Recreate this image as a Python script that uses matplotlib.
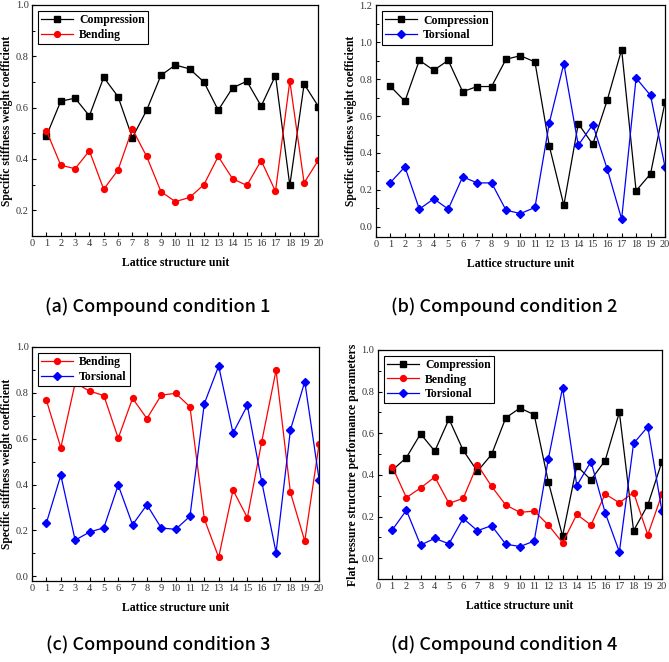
import numpy as np
import matplotlib
matplotlib.use("Agg")
import matplotlib.pyplot as plt
from matplotlib.ticker import MultipleLocator

# ======================================
# DATA
# ======================================
units = list(range(1, 21))

# (a) compound condition 1
a_compression = [0.490, 0.625, 0.637, 0.568, 0.718, 0.643, 0.483, 0.590, 0.726, 0.766,
                 0.751, 0.700, 0.590, 0.677, 0.703, 0.606, 0.725, 0.297, 0.692, 0.604]
a_bending = [0.510, 0.376, 0.362, 0.432, 0.282, 0.357, 0.517, 0.410, 0.273, 0.234,
             0.250, 0.300, 0.410, 0.323, 0.297, 0.394, 0.274, 0.704, 0.307, 0.396]

# (b) compound condition 2
b_compression = [0.761, 0.680, 0.902, 0.848, 0.902, 0.732, 0.760, 0.760, 0.908, 0.927,
                 0.893, 0.436, 0.117, 0.559, 0.447, 0.685, 0.960, 0.195, 0.287, 0.675]
b_torsional = [0.240, 0.325, 0.096, 0.152, 0.096, 0.271, 0.238, 0.238, 0.090, 0.072,
               0.105, 0.565, 0.884, 0.442, 0.554, 0.314, 0.042, 0.806, 0.712, 0.325]

# (c) compound condition 3
c_bending = [0.767, 0.561, 0.843, 0.808, 0.788, 0.602, 0.776, 0.688, 0.790, 0.798,
             0.739, 0.250, 0.083, 0.376, 0.256, 0.587, 0.898, 0.366, 0.154, 0.578]
c_torsional = [0.234, 0.441, 0.158, 0.193, 0.212, 0.398, 0.225, 0.312, 0.211, 0.205,
               0.262, 0.753, 0.917, 0.625, 0.745, 0.413, 0.104, 0.638, 0.849, 0.422]

# (d) compound condition 4
d_compression = [0.422, 0.483, 0.597, 0.514, 0.668, 0.518, 0.417, 0.498, 0.674, 0.721,
                 0.689, 0.366, 0.106, 0.443, 0.376, 0.469, 0.701, 0.132, 0.255, 0.464]
d_bending = [0.440, 0.291, 0.337, 0.390, 0.263, 0.287, 0.449, 0.345, 0.255, 0.220,
             0.226, 0.159, 0.074, 0.210, 0.159, 0.308, 0.266, 0.315, 0.112, 0.307]
d_torsional = [0.135, 0.230, 0.063, 0.095, 0.069, 0.191, 0.132, 0.156, 0.067, 0.056,
               0.082, 0.477, 0.819, 0.348, 0.464, 0.218, 0.030, 0.551, 0.631, 0.225]

captions = ["(a) Compound condition 1", "(b) Compound condition 2",
            "(c) Compound condition 3", "(d) Compound condition 4"]

# ======================================
# STYLE
# ======================================
SERIF = "Liberation Serif"
styles = {
    "Compression": dict(color="black", marker="s"),
    "Bending": dict(color="red", marker="o"),
    "Torsional": dict(color="blue", marker="D"),
}

fig = plt.figure(figsize=(6.69, 6.62), dpi=100)


def panel(rect, series, ylim, yticks, ylabel, ylab_size=8.3):
    ax = fig.add_axes(rect)
    for name, vals in series:
        st = styles[name]
        ms = 3.6 if st["marker"] == "D" else 4.2
        ax.plot(units, vals, color=st["color"], marker=st["marker"],
                markersize=ms, linewidth=0.9, label=name)
    ax.set_xlim(0, 20)
    ax.set_ylim(*ylim)
    ax.set_xticks(range(0, 21))
    ax.set_yticks(yticks)
    ax.yaxis.set_minor_locator(MultipleLocator(0.1))
    ax.tick_params(direction="in", which="major", length=3, width=0.8, labelsize=7.5, pad=2.5)
    ax.tick_params(direction="in", which="minor", length=1.8, width=0.7)
    ax.tick_params(axis="x", which="minor", bottom=False)
    for lab in ax.get_xticklabels() + ax.get_yticklabels():
        lab.set_fontfamily(SERIF)
        lab.set_color("#333333")
    for sp in ax.spines.values():
        sp.set_linewidth(0.9)
    ax.set_xlabel("Lattice structure unit", fontfamily=SERIF, fontweight="bold",
                  fontsize=8.5, labelpad=6)
    ax.set_ylabel(ylabel, fontfamily=SERIF, fontweight="bold", fontsize=ylab_size, labelpad=2)
    leg = ax.legend(loc="upper left", bbox_to_anchor=(0.02, 0.975), borderaxespad=0,
                    prop={"family": SERIF, "weight": "bold", "size": 8.5},
                    handlelength=2.7, fancybox=False, edgecolor="black",
                    framealpha=1, borderpad=0.3, labelspacing=0.2, handletextpad=0.5)
    leg.get_frame().set_linewidth(0.8)
    return ax


ylab = "Specific stiffness weight coefficient"

panel([0.048, 0.6435, 0.428, 0.349],
      [("Compression", a_compression), ("Bending", a_bending)],
      (0.1, 1.0), np.arange(0.2, 1.01, 0.2), ylab)

panel([0.562, 0.642, 0.432, 0.350],
      [("Compression", b_compression), ("Torsional", b_torsional)],
      (-0.055, 1.2), np.arange(0.0, 1.21, 0.2), ylab)

panel([0.048, 0.1224, 0.429, 0.3535],
      [("Bending", c_bending), ("Torsional", c_torsional)],
      (-0.02, 1.0), np.arange(0.0, 1.01, 0.2), ylab)

panel([0.565, 0.1254, 0.4245, 0.346],
      [("Compression", d_compression), ("Bending", d_bending), ("Torsional", d_torsional)],
      (-0.1, 1.0), np.arange(0.0, 1.01, 0.2),
      "Flat pressure structure performance parameters", ylab_size=8.5)

# captions under each panel
cap_x = [158 / 669, 504 / 669, 158 / 669, 504 / 669]
cap_y = [1 - 307 / 662, 1 - 307 / 662, 1 - 645 / 662, 1 - 645 / 662]
for x, y, txt in zip(cap_x, cap_y, captions):
    fig.text(x, y, txt, ha="center", va="center", fontsize=13, fontweight="medium",
             family=["Noto Sans CJK JP", "DejaVu Sans"])

plt.savefig("out.png", dpi=100)
plt.close()
